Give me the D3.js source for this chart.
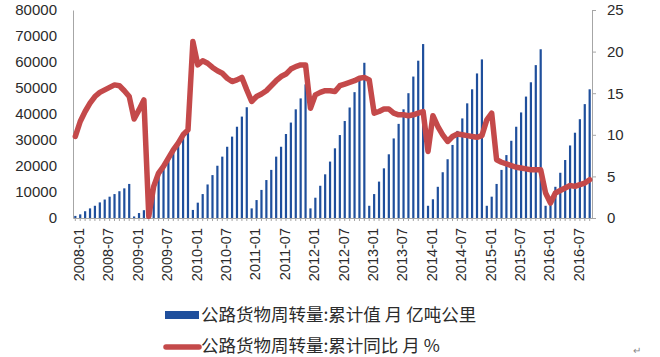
<!DOCTYPE html>
<html>
<head>
<meta charset="utf-8">
<script src="https://cdn.jsdelivr.net/npm/d3@7"></script>
<style>
  html, body { margin: 0; padding: 0; background: #ffffff; }
  svg { display: block; }
  text { font-family: "Liberation Sans", Arial, sans-serif; }
</style>
</head>
<body>
<svg id="chart" width="660" height="357"></svg>
<script>
// ---- data ----
const years = [2008, 2009, 2010, 2011, 2012, 2013, 2014, 2015, 2016];
const monthNames = ["01","02","03","04","05","06","07","08","09","10","11","12"];
const lastMonth2016 = 10;
const categories = years.flatMap(y => monthNames
  .filter((m, k) => !(y === 2016 && k >= lastMonth2016))
  .map(m => y + "-" + m));

// 公路货物周转量:累计值 月 亿吨公里
const cumValue = [
  800, 1400, 2600, 3700, 4700, 6000, 7100, 8200, 9200, 10300, 11400, 13100,
  600, 1900, 3000, 8000, 13600, 16900, 20300, 23500, 26800, 29300, 32500, 33600,
  3100, 5900, 9200, 12900, 16500, 20100, 23600, 27400, 31300, 35100, 39000, 42600,
  3700, 6900, 10800, 14600, 18500, 23600, 27400, 32300, 36700, 41800, 46000, 51400,
  3700, 7800, 12400, 16800, 21700, 26800, 31900, 37300, 42500, 48400, 54000, 59700,
  4700, 9200, 14000, 19100, 24500, 30600, 36200, 41800, 48000, 54400, 60500, 66900,
  4700, 7200, 12000, 17600, 22600, 28100, 33500, 38300, 44100, 49500, 55600, 61000,
  4700, 8200, 13100, 18500, 24200, 29700, 35100, 40600, 46700, 52200, 58800, 64900,
  4700, 6900, 12000, 17400, 22300, 27900, 32800, 38000, 43800, 49500
];

// 公路货物周转量:累计同比 月 %
const yoyPct = [
  9.8, 11.6, 12.8, 13.8, 14.6, 15.1, 15.4, 15.7, 16.0, 15.9, 15.3, 14.6,
  11.9, 13.0, 14.2, 0.2, 3.8, 5.4, 6.2, 7.2, 8.2, 9.0, 10.0, 10.6,
  21.2, 18.4, 18.9, 18.6, 18.1, 17.7, 17.4, 16.8, 16.4, 16.6, 16.9, 15.4,
  14.0, 14.6, 14.9, 15.3, 15.9, 16.5, 17.0, 17.3, 17.9, 18.2, 18.4, 18.4,
  13.2, 14.8, 15.1, 15.3, 15.3, 15.2, 15.9, 16.1, 16.3, 16.5, 16.8, 16.9,
  16.6, 12.6, 12.8, 13.1, 13.1, 12.6, 12.4, 12.4, 12.3, 12.4, 12.6, 12.8,
  8.0, 12.3, 11.0, 10.0, 9.2, 9.8, 10.1, 10.0, 9.9, 9.8, 9.7, 9.9,
  11.8, 12.6, 7.0, 6.7, 6.5, 6.3, 6.1, 6.0, 5.9, 5.8, 5.8, 5.8,
  3.0, 1.8, 3.0, 3.3, 3.6, 3.9, 3.8, 4.0, 4.2, 4.6
];

const tickLabels = ["2008-01","2008-07","2009-01","2009-07","2010-01","2010-07",
  "2011-01","2011-07","2012-01","2012-07","2013-01","2013-07","2014-01","2014-07",
  "2015-01","2015-07","2016-01","2016-07"];
const leftTicks = [0, 10000, 20000, 30000, 40000, 50000, 60000, 70000, 80000];
const rightTicks = [0, 5, 10, 15, 20, 25];
const legendLabels = ["公路货物周转量:累计值 月 亿吨公里", "公路货物周转量:累计同比 月 %"];

// ---- layout ----
const plot = { left: 73, right: 592, top: 10, bottom: 218 };
const barColor = "#1f4f9c";
const lineColor = "#c4494a";
const axisColor = "#a6a6a6";
const textColor = "#2b2b2b";

const svg = d3.select("#chart");

const x = d3.scaleBand().domain(categories).range([plot.left, plot.right]).paddingInner(0.55).paddingOuter(0.25);
const yL = d3.scaleLinear().domain([0, 80000]).range([plot.bottom, plot.top]);
const yR = d3.scaleLinear().domain([0, 25]).range([plot.bottom, plot.top]);

// bars
svg.append("g").selectAll("rect").data(categories).join("rect")
  .attr("x", d => x(d))
  .attr("width", x.bandwidth())
  .attr("y", (d, i) => yL(cumValue[i]))
  .attr("height", (d, i) => yL(0) - yL(cumValue[i]))
  .attr("fill", barColor);

// left axis
const gL = svg.append("g").attr("transform", `translate(${plot.left},0)`)
  .call(d3.axisLeft(yL).tickValues(leftTicks).tickSize(0).tickPadding(16).tickFormat(d3.format("d")));
gL.select(".domain").attr("stroke", axisColor);
gL.selectAll("text").attr("fill", textColor).style("font-size", "15px");

// right axis
const gR = svg.append("g").attr("transform", `translate(${plot.right},0)`)
  .call(d3.axisRight(yR).tickValues(rightTicks).tickSize(4).tickSizeOuter(0).tickPadding(11));
gR.select(".domain").attr("stroke", axisColor);
gR.selectAll("line").attr("stroke", axisColor);
gR.selectAll("text").attr("fill", textColor).style("font-size", "15px");

// bottom axis: monthly tick marks
const gBt = svg.append("g").attr("transform", `translate(0,${plot.bottom})`)
  .call(d3.axisBottom(x).tickSize(3).tickSizeOuter(0).tickFormat(""));
gBt.select(".domain").attr("stroke", axisColor);
gBt.selectAll("line").attr("stroke", axisColor);

// bottom axis labels
const gB = svg.append("g").attr("transform", `translate(0,${plot.bottom})`)
  .call(d3.axisBottom(x).tickValues(tickLabels).tickSize(0).tickSizeOuter(0));
gB.select(".domain").remove();
gB.selectAll("text")
  .attr("fill", textColor)
  .style("font-size", "14.5px")
  .attr("text-anchor", "end")
  .attr("transform", "rotate(-90)")
  .attr("x", -10)
  .attr("y", 0)
  .attr("dy", "0.6em");

// line
const line = d3.line()
  .x((d, i) => x(categories[i]) + x.bandwidth() / 2)
  .y(d => yR(d));
svg.append("path").datum(yoyPct)
  .attr("d", line)
  .attr("fill", "none")
  .attr("stroke", lineColor)
  .attr("stroke-width", 5.5)
  .attr("stroke-linejoin", "round")
  .attr("stroke-linecap", "round");

// legend
const lg = svg.append("g");
lg.append("rect").attr("x", 165).attr("y", 311).attr("width", 34).attr("height", 8).attr("fill", barColor);
lg.append("text").attr("x", 201).attr("y", 315).attr("dy", "0.35em")
  .style("font-family", "'Noto Sans CJK SC', sans-serif").style("font-size", "17.5px")
  .attr("fill", textColor).text(legendLabels[0]);
lg.append("line").attr("x1", 166).attr("x2", 199).attr("y1", 347).attr("y2", 347)
  .attr("stroke", lineColor).attr("stroke-width", 5.5).attr("stroke-linecap", "round");
lg.append("text").attr("x", 201).attr("y", 346).attr("dy", "0.35em")
  .style("font-family", "'Noto Sans CJK SC', sans-serif").style("font-size", "17.5px")
  .attr("fill", textColor).text(legendLabels[1]);

// paragraph mark at bottom right
svg.append("text").attr("x", 633).attr("y", 354).style("font-size", "10px")
  .attr("fill", "#888").text("↵");
</script>
</body>
</html>
